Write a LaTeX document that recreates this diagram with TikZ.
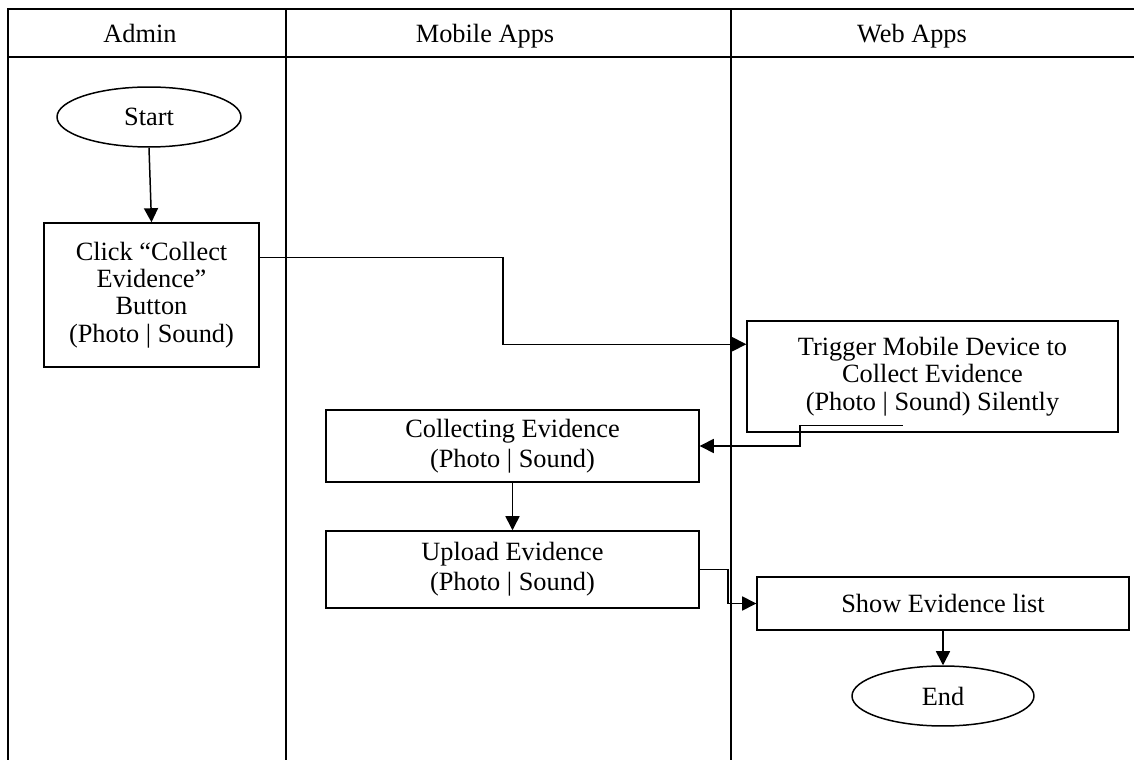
\documentclass[tikz,border=0pt]{standalone}
\usepackage{fontspec}
\setmainfont{Liberation Serif}
\usetikzlibrary{shapes.geometric,arrows.meta,calc}

\tikzset{
  lane/.style={line width=1pt},
  box/.style={draw,line width=0.85pt,align=center,inner sep=0pt,
    font=\fontsize{15}{15.5}\selectfont},
  wide/.style={box,font=\fontsize{15}{17}\selectfont},
  term/.style={draw,line width=0.85pt,ellipse,inner sep=0pt,
    font=\fontsize{15}{15.5}\selectfont},
  head/.style={anchor=base,font=\fontsize{15}{16}\selectfont},
  flow/.style={line width=0.85pt,-{Triangle[length=8pt,width=8pt]}},
}

\begin{document}
\begin{tikzpicture}[x=0.02cm,y=-0.02cm]
            \useasboundingbox (0,0) rectangle (1134,760);
            % swim lanes
            \draw[lane] (8,760) -- (8,9) -- (1134,9);
            \draw[line width=1.4pt] (8,57) -- (1134,57);
            \draw[lane] (286,9) -- (286,760);
            \draw[lane] (731,9) -- (731,760);
            \node[head] (hadmin) at (140,43) {Admin};
            \node[head] (hmobile) at (485,43) {Mobile Apps};
            \node[head] (hweb) at (912,43) {Web Apps};
            % admin
            \node[term,minimum width=3.68cm,minimum height=1.2cm] (start) at (149,117) {Start};
            \node[box,minimum width=4.3cm,minimum height=2.88cm] (click) at (151.5,295)
                {Click ``Collect\\Evidence''\\Button\\(Photo | Sound)};
            % web apps
            \node[box,minimum width=7.42cm,minimum height=2.22cm] (trig) at (932.5,376.5)
                {Trigger Mobile Device to\\Collect Evidence\\(Photo | Sound) Silently};
            \node[box,minimum width=7.44cm,minimum height=1.06cm] (show) at (943,603.5) {Show Evidence list};
            \node[term,minimum width=3.64cm,minimum height=1.2cm] (end) at (943,696) {End};
            % mobile apps
            \node[wide,minimum width=7.46cm,minimum height=1.44cm] (collect) at (512.5,446)
                {Collecting Evidence\\(Photo | Sound)};
            \node[wide,minimum width=7.46cm,minimum height=1.54cm] (upload) at (512.5,569.5)
                {Upload Evidence\\(Photo | Sound)};
            % flows
            \coordinate (clickout) at ($(click.north east)+(0,35)$);
            \coordinate (trigin) at ($(trig.north west)+(0,24)$);
            \coordinate (trigout) at ($(trig.south)+(-30,-7)$);
            \coordinate (jog) at (800,434);
            \draw[flow] (start.south) -- (click.north);
            \draw[flow] (clickout) -| ($(clickout)!0.5!(trigin)$) |- (trigin);
            \draw[flow] (trigout) -| (jog) |- (collect.east);
            \draw[flow] (collect.south) -- (upload.north);
            \draw[flow] (upload.east) -| ($(upload.east)!0.5!(show.west)$) |- (show.west);
            \draw[flow] (show.south) -- (end.north);
\end{tikzpicture}
\end{document}
